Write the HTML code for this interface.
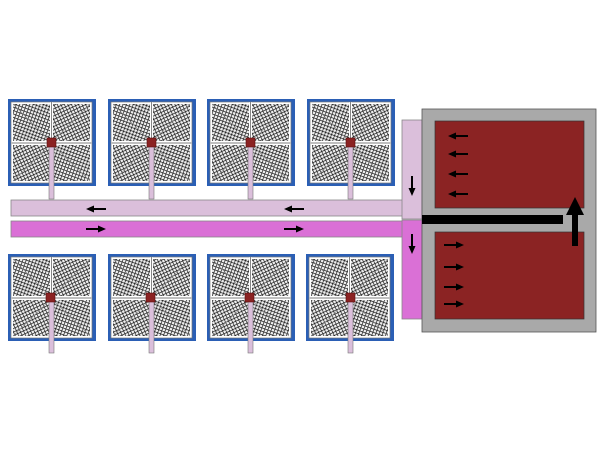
<!DOCTYPE html>
<html><head><meta charset="utf-8"><style>html,body{margin:0;padding:0;background:#fff}svg{display:block}</style></head><body>
<svg width="600" height="451" viewBox="0 0 600 451" xmlns="http://www.w3.org/2000/svg">
<defs>
<pattern id="m" width="3.2" height="3.2" patternUnits="userSpaceOnUse" patternTransform="rotate(20)">
<rect width="3.2" height="3.2" fill="#eee"/>
<path d="M0 0H3.2M0 0V3.2" stroke="#111" stroke-width="1.3"/>
</pattern>
<pattern id="m2" width="3.2" height="3.2" patternUnits="userSpaceOnUse" patternTransform="rotate(-25)">
<rect width="3.2" height="3.2" fill="#eee"/>
<path d="M0 0H3.2M0 0V3.2" stroke="#111" stroke-width="1.3"/>
</pattern>
<g id="panel">
<rect x="0" y="1" width="88" height="87" fill="#2b5fb5"/>
<rect x="3" y="4" width="81" height="81" fill="#fff" stroke="#777" stroke-width="0.7"/>
<rect x="5" y="6" width="37" height="37" fill="url(#m)"/>
<rect x="45" y="6" width="37" height="37" fill="url(#m2)"/>
<rect x="5" y="47" width="37" height="36" fill="url(#m2)"/>
<rect x="45" y="47" width="37" height="36" fill="url(#m)"/>
<path d="M5 6L42 43M82 6L45 43M5 83L42 47M82 83L45 47" stroke="#888" stroke-width="0.6"/>
<path d="M43.5 4V85M3 45H84" stroke="#fff" stroke-width="2"/>
<path d="M43.5 4V85M3 45H84" stroke="#555" stroke-width="0.7"/>
</g>
<g id="arrR"><path d="M0 0H14" stroke="#000" stroke-width="2"/><path d="M12 -3.5L20 0L12 3.5Z" fill="#000"/></g>
<g id="arrL"><path d="M6 0H20" stroke="#000" stroke-width="2"/><path d="M8 -3.5L0 0L8 3.5Z" fill="#000"/></g>
<g id="arrD"><path d="M0 0V14" stroke="#000" stroke-width="2"/><path d="M-3.5 12L0 20L3.5 12Z" fill="#000"/></g>
</defs>

<rect x="11" y="200" width="392" height="16" fill="#dbbfdb" stroke="#888" stroke-width="0.8"/>
<rect x="11" y="221" width="392" height="16" fill="#da70d6" stroke="#888" stroke-width="0.8"/>
<rect x="402" y="120" width="20" height="99" fill="#dbbfdb" stroke="#888" stroke-width="0.8"/>
<rect x="402" y="220" width="20" height="99" fill="#da70d6" stroke="#888" stroke-width="0.8"/>

<g transform="translate(8,98)"><use href="#panel"/></g>
<g transform="translate(108,98)"><use href="#panel"/></g>
<g transform="translate(207,98)"><use href="#panel"/></g>
<g transform="translate(307,98)"><use href="#panel"/></g>
<g transform="translate(8,253)"><use href="#panel"/></g>
<g transform="translate(108,253)"><use href="#panel"/></g>
<g transform="translate(207,253)"><use href="#panel"/></g>
<g transform="translate(306,253)"><use href="#panel"/></g>

<g fill="#dbbfdb" stroke="#777" stroke-width="0.6">
<rect x="49" y="146" width="5" height="53"/><rect x="149" y="146" width="5" height="53"/><rect x="248" y="146" width="5" height="53"/><rect x="348" y="146" width="5" height="53"/>
<rect x="49" y="301" width="5" height="52"/><rect x="149" y="301" width="5" height="52"/><rect x="248" y="301" width="5" height="52"/><rect x="348" y="301" width="5" height="52"/>
</g>
<g fill="#8b2222" stroke="#5a1010" stroke-width="0.6">
<rect x="47" y="138" width="9" height="9"/><rect x="147" y="138" width="9" height="9"/><rect x="246" y="138" width="9" height="9"/><rect x="346" y="138" width="9" height="9"/>
<rect x="46" y="293" width="9" height="9"/><rect x="146" y="293" width="9" height="9"/><rect x="245" y="293" width="9" height="9"/><rect x="346" y="293" width="9" height="9"/>
</g>

<use href="#arrL" x="86" y="209"/><use href="#arrL" x="284" y="209"/>
<use href="#arrR" x="86" y="229"/><use href="#arrR" x="284" y="229"/>
<use href="#arrD" x="412" y="176"/><use href="#arrD" x="412" y="234"/>

<rect x="422" y="109" width="174" height="223" fill="#a9a9a9" stroke="#555" stroke-width="0.8"/>
<rect x="435" y="121" width="149" height="87" fill="#8b2323" stroke="#333" stroke-width="0.7"/>
<rect x="435" y="232" width="149" height="87" fill="#8b2323" stroke="#333" stroke-width="0.7"/>
<rect x="422" y="215" width="141" height="9" fill="#000"/>
<rect x="572" y="212" width="6" height="34" fill="#000"/>
<path d="M566 215L575 197L584 215Z" fill="#000"/>

<use href="#arrL" x="448" y="136"/><use href="#arrL" x="448" y="154"/><use href="#arrL" x="448" y="174"/><use href="#arrL" x="448" y="194"/>
<use href="#arrR" x="444" y="245"/><use href="#arrR" x="444" y="267"/><use href="#arrR" x="444" y="287"/><use href="#arrR" x="444" y="304"/>
</svg>
</body></html>
